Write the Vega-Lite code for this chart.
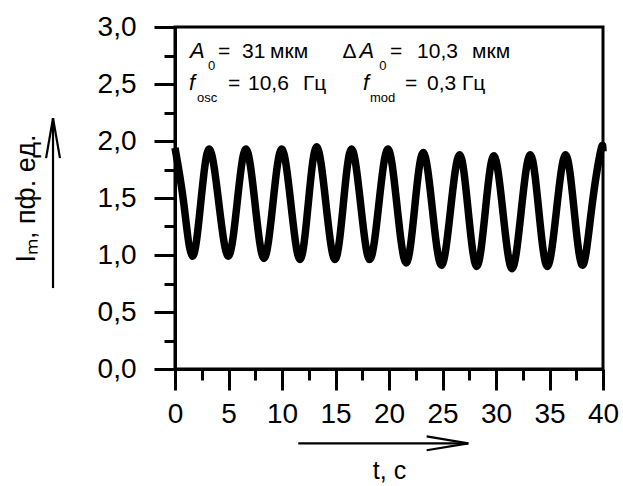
{
  "$schema": "https://vega.github.io/schema/vega-lite/v6.json",
  "width": 428,
  "height": 342,
  "autosize": {"type": "none"},
  "padding": {"left": 175, "top": 27, "right": 20, "bottom": 117},
  "background": "white",
  "config": {
    "font": "Liberation Sans",
    "view": {"stroke": "black", "strokeWidth": 3},
    "axis": {"grid": false, "domainColor": "black", "tickColor": "black", "labelColor": "black", "titleColor": "black", "domainWidth": 3, "tickWidth": 3, "titleFontWeight": "normal", "labelFont": "Liberation Sans", "titleFont": "Liberation Sans"}
  },
  "datasets": {
    "signal": [
      {"t": 0.00, "I": 1.94}, {"t": 0.81, "I": 1.46}, {"t": 1.62, "I": 0.99}, {"t": 2.41, "I": 1.46},
      {"t": 3.20, "I": 1.93}, {"t": 4.09, "I": 1.46}, {"t": 4.98, "I": 0.99}, {"t": 5.81, "I": 1.46},
      {"t": 6.63, "I": 1.93}, {"t": 7.48, "I": 1.45}, {"t": 8.32, "I": 0.97}, {"t": 9.15, "I": 1.45},
      {"t": 9.97, "I": 1.93}, {"t": 10.83, "I": 1.45}, {"t": 11.68, "I": 0.96}, {"t": 12.46, "I": 1.455},
      {"t": 13.24, "I": 1.95}, {"t": 14.10, "I": 1.455}, {"t": 14.95, "I": 0.96}, {"t": 15.73, "I": 1.445},
      {"t": 16.50, "I": 1.93}, {"t": 17.35, "I": 1.445}, {"t": 18.20, "I": 0.96}, {"t": 19.05, "I": 1.445},
      {"t": 19.90, "I": 1.93}, {"t": 20.75, "I": 1.43}, {"t": 21.60, "I": 0.93}, {"t": 22.40, "I": 1.415},
      {"t": 23.20, "I": 1.90}, {"t": 24.05, "I": 1.405}, {"t": 24.90, "I": 0.91}, {"t": 25.75, "I": 1.395},
      {"t": 26.60, "I": 1.88}, {"t": 27.40, "I": 1.39}, {"t": 28.20, "I": 0.90}, {"t": 29.00, "I": 1.385},
      {"t": 29.80, "I": 1.87}, {"t": 30.65, "I": 1.375}, {"t": 31.50, "I": 0.88}, {"t": 32.35, "I": 1.38},
      {"t": 33.20, "I": 1.88}, {"t": 34.00, "I": 1.39}, {"t": 34.80, "I": 0.90}, {"t": 35.65, "I": 1.39},
      {"t": 36.50, "I": 1.88}, {"t": 37.30, "I": 1.395}, {"t": 38.10, "I": 0.91}, {"t": 38.95, "I": 1.415},
      {"t": 39.80, "I": 1.92}, {"t": 40.00, "I": 1.91}
    ],
    "arrows": [
      {"xa": 11.52, "xb": 27.41, "ya": -0.652, "yb": -0.652},
      {"xa": 23.52, "xb": 27.41, "ya": -0.591, "yb": -0.652},
      {"xa": 23.52, "xb": 27.41, "ya": -0.713, "yb": -0.652},
      {"xa": -11.40, "xb": -11.40, "ya": 0.71, "yb": 2.20},
      {"xa": -12.05, "xb": -11.40, "ya": 1.85, "yb": 2.20},
      {"xa": -10.75, "xb": -11.40, "ya": 1.85, "yb": 2.20}
    ],
    "normalText": [
      {"x": 4.02, "y": 2.728, "s": "="}, {"x": 6.26, "y": 2.728, "s": "31"}, {"x": 8.88, "y": 2.728, "s": "мкм"},
      {"x": 15.65, "y": 2.728, "s": "Δ"}, {"x": 20.09, "y": 2.728, "s": "="}, {"x": 22.62, "y": 2.728, "s": "10,3"},
      {"x": 27.76, "y": 2.728, "s": "мкм"},
      {"x": 4.95, "y": 2.447, "s": "="}, {"x": 6.82, "y": 2.447, "s": "10,6"}, {"x": 11.96, "y": 2.447, "s": "Гц"},
      {"x": 21.50, "y": 2.447, "s": "="}, {"x": 23.55, "y": 2.447, "s": "0,3"}, {"x": 26.82, "y": 2.447, "s": "Гц"}
    ],
    "italicText": [
      {"x": 1.40, "y": 2.728, "s": "A"}, {"x": 17.25, "y": 2.728, "s": "A"},
      {"x": 1.31, "y": 2.447, "s": "f"}, {"x": 17.57, "y": 2.447, "s": "f"}
    ],
    "subText": [
      {"x": 3.08, "y": 2.62, "s": "0"}, {"x": 19.1, "y": 2.62, "s": "0"},
      {"x": 2.06, "y": 2.342, "s": "osc"}, {"x": 18.22, "y": 2.342, "s": "mod"}
    ]
  },
  "layer": [
    {
      "data": {"name": "signal"},
      "mark": {"type": "line", "color": "black", "strokeWidth": 7.5, "interpolate": "natural"},
      "encoding": {
        "x": {"field": "t", "type": "quantitative", "scale": {"domain": [0, 40], "nice": false, "zero": false},
          "axis": {"orient": "bottom", "values": [0, 5, 10, 15, 20, 25, 30, 35, 40], "tickSize": 21, "labelFontSize": 28, "labelPadding": 10, "labelFlush": false, "title": "t, с", "titleFontSize": 25, "titlePadding": 30}},
        "y": {"field": "I", "type": "quantitative", "scale": {"domain": [0, 3], "nice": false, "zero": false},
          "axis": {"orient": "left", "values": [0, 0.5, 1, 1.5, 2, 2.5, 3], "tickSize": 21, "labelFontSize": 28, "labelPadding": 18, "labelExpr": "replace(format(datum.value, '.1f'), '.', ',')", "title": "Iₘ, пф. ед.", "titleFontSize": 27, "titlePadding": 57}}
      }
    },
    {
      "data": {"name": "arrows"},
      "mark": {"type": "rule", "color": "black", "strokeWidth": 2.2},
      "encoding": {
        "x": {"field": "xa", "type": "quantitative",
          "axis": {"orient": "bottom", "values": [2.5, 7.5, 12.5, 17.5, 22.5, 27.5, 32.5, 37.5], "tickSize": 11, "labels": false, "domain": false, "title": null}},
        "x2": {"field": "xb"},
        "y": {"field": "ya", "type": "quantitative",
          "axis": {"orient": "left", "values": [0.25, 0.75, 1.25, 1.75, 2.25, 2.75], "tickSize": 11, "labels": false, "domain": false, "title": null}},
        "y2": {"field": "yb"}
      }
    },
    {
      "data": {"name": "normalText"},
      "mark": {"type": "text", "align": "left", "baseline": "alphabetic", "fontSize": 21, "color": "black"},
      "encoding": {
        "x": {"field": "x", "type": "quantitative", "axis": null},
        "y": {"field": "y", "type": "quantitative", "axis": null},
        "text": {"field": "s"}
      }
    },
    {
      "data": {"name": "italicText"},
      "mark": {"type": "text", "align": "left", "baseline": "alphabetic", "fontSize": 22, "fontStyle": "italic", "color": "black"},
      "encoding": {
        "x": {"field": "x", "type": "quantitative", "axis": null},
        "y": {"field": "y", "type": "quantitative", "axis": null},
        "text": {"field": "s"}
      }
    },
    {
      "data": {"name": "subText"},
      "mark": {"type": "text", "align": "left", "baseline": "alphabetic", "fontSize": 13, "color": "black"},
      "encoding": {
        "x": {"field": "x", "type": "quantitative", "axis": null},
        "y": {"field": "y", "type": "quantitative", "axis": null},
        "text": {"field": "s"}
      }
    }
  ],
  "resolve": {"axis": {"x": "independent", "y": "independent"}}
}
